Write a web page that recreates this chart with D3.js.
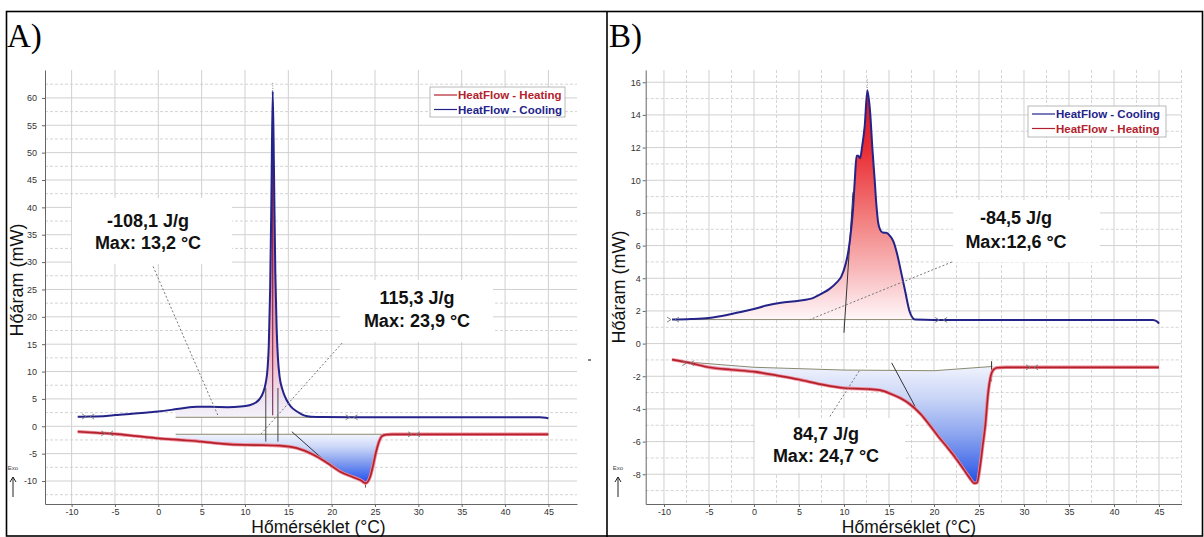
<!DOCTYPE html>
<html>
<head>
<meta charset="utf-8">
<script src="https://cdn.jsdelivr.net/npm/d3@7"></script>
<style>
  body { margin: 0; background: #fff; }
  svg { display: block; }
</style>
</head>
<body>
<svg id="fig" width="1204" height="537"></svg>
<script>
// ---------- Panel A: DSC heat flow, sample A ----------
const aTempTicks = [-10, -5, 0, 5, 10, 15, 20, 25, 30, 35, 40, 45];
const aFlowTicks = [-10, -5, 0, 5, 10, 15, 20, 25, 30, 35, 40, 45, 50, 55, 60];

const aCoolingTemp = [-9.3, -8, -6, -5, -3, -1, 0, 1.5, 3, 4.5, 6, 8, 9.5, 10.5, 11.2, 11.7, 12.1, 12.4, 12.6, 12.75, 12.9, 13.05, 13.2, 13.35, 13.5, 13.65, 13.8, 14.0, 14.3, 14.8, 15.3, 16.0, 16.8, 17.6, 19, 25, 35, 44, 44.7, 45];
const aCoolingFlow = [1.75, 1.78, 1.9, 2.05, 2.3, 2.55, 2.7, 3.0, 3.35, 3.55, 3.55, 3.5, 3.6, 3.85, 4.3, 5.0, 6.2, 8.0, 10.5, 15, 25, 42, 61.2, 46, 28, 18, 12.5, 9.0, 6.8, 4.8, 3.6, 2.7, 2.0, 1.75, 1.68, 1.65, 1.64, 1.64, 1.58, 1.45];

const aHeatingTemp = [-9.3, -7, -5, -2.5, 0, 2.5, 5, 7.5, 10, 12, 14, 16, 17.9, 19.4, 21, 22.5, 23.4, 23.9, 24.4, 24.8, 25.1, 25.4, 25.8, 26.3, 27, 35, 45];
const aHeatingFlow = [-0.98, -1.2, -1.4, -1.8, -2.2, -2.5, -2.8, -3.2, -3.4, -3.45, -3.55, -4.0, -5.2, -6.6, -8.3, -9.3, -9.9, -10.4, -9.4, -7.0, -4.8, -3.1, -1.8, -1.52, -1.46, -1.46, -1.46];

const aCoolBaseTemp = [2, 17.8];
const aCoolBaseFlow = [1.64, 1.64];
const aHeatBaseTemp = [2, 26.4];
const aHeatBaseFlow = [-1.46, -1.46];

const aLegend = ["HeatFlow - Heating", "HeatFlow - Cooling"];
const aCoolLabel = ["-108,1 J/g", "Max: 13,2 °C"];
const aHeatLabel = ["115,3 J/g", "Max: 23,9 °C"];

// ---------- Panel B: DSC heat flow, sample B ----------
const bTempTicks = [-10, -5, 0, 5, 10, 15, 20, 25, 30, 35, 40, 45];
const bFlowTicks = [-8, -6, -4, -2, 0, 2, 4, 6, 8, 10, 12, 14, 16];

const bCoolingTemp = [-9.1, -7, -5, -3, -1, 0, 1.5, 3, 5, 6.6, 7.5, 8.4, 9.2, 9.7, 10.2, 10.5, 10.8, 11.0, 11.2, 11.4, 11.6, 11.8, 12.0, 12.3, 12.6, 12.9, 13.15, 13.4, 13.6, 13.8, 14.0, 14.3, 14.7, 15.1, 15.5, 15.9, 16.3, 16.8, 17.3, 17.6, 17.9, 20, 30, 40, 44.3, 44.8, 45];
const bCoolingFlow = [1.47, 1.5, 1.57, 1.75, 2.0, 2.12, 2.35, 2.5, 2.62, 2.8, 3.05, 3.35, 3.75, 4.1, 4.9, 5.7, 7.0, 8.2, 10.0, 11.5, 11.5, 11.35, 12.0, 13.3, 15.5, 14.2, 12.0, 10.1, 8.5, 7.4, 7.0, 6.8, 6.78, 6.6, 6.25, 5.5, 4.5, 3.2, 1.95, 1.6, 1.47, 1.45, 1.45, 1.45, 1.44, 1.35, 1.22];

const bHeatingTemp = [-9.1, -7, -5, -2.5, 0, 2.5, 5, 7.5, 10, 12.5, 14, 15.3, 16.3, 17.3, 18.5, 19.6, 20.5, 21.4, 22.4, 23.3, 24.0, 24.5, 24.8, 25.1, 25.4, 25.7, 26.0, 26.3, 26.6, 27.0, 28, 35, 45];
const bHeatingFlow = [-0.98, -1.2, -1.45, -1.6, -1.72, -1.95, -2.2, -2.5, -2.72, -2.78, -2.85, -3.1, -3.35, -3.7, -4.3, -5.05, -5.7, -6.3, -7.0, -7.7, -8.25, -8.55, -8.5, -7.6, -6.3, -5.0, -3.1, -2.0, -1.6, -1.48, -1.45, -1.45, -1.45];

const bCoolBaseTemp = [-7, 17.9];
const bCoolBaseFlow = [1.47, 1.47];
const bHeatBaseTemp = [-8, 0, 10, 20, 26.5];
const bHeatBaseFlow = [-1.1, -1.45, -1.62, -1.66, -1.4];

const bLegend = ["HeatFlow - Cooling", "HeatFlow - Heating"];
const bCoolLabel = ["-84,5 J/g", "Max:12,6 °C"];
const bHeatLabel = ["84,7 J/g", "Max: 24,7 °C"];

const axisTitleY = "Hőáram (mW)";
const axisTitleX = "Hőmérséklet (°C)";

// ---------- drawing ----------
const SANS = "'Liberation Sans', Arial, sans-serif";
const SERIF = "'Liberation Serif', 'Times New Roman', serif";
const COOL = "#23238a";
const HEAT = "#b3222c";
const svg = d3.select("#fig");
const defs = svg.append("defs");

const zip = (ts, fs) => ts.map((t, i) => ({ t, f: fs[i] }));

function addGradient(id, y1, y2, stops) {
  const g = defs.append("linearGradient").attr("id", id)
    .attr("gradientUnits", "userSpaceOnUse")
    .attr("x1", 0).attr("x2", 0).attr("y1", y1).attr("y2", y2);
  stops.forEach(([o, c]) => g.append("stop").attr("offset", o).attr("stop-color", c));
}

function drawPanel(p) {
  const g = svg.append("g");
  const x = d3.scaleLinear().domain(p.xDomain).range(p.xRange);
  const y = d3.scaleLinear().domain(p.yDomain).range([504, 70]);
  const [x0, x1] = p.xRange;

  // minor grid (dashed)
  g.append("g").selectAll("line").data(p.yMinor).join("line")
    .attr("x1", x0).attr("x2", x1).attr("y1", d => y(d)).attr("y2", d => y(d))
    .attr("stroke", "#d4d4d4").attr("stroke-dasharray", "3,2").attr("stroke-width", 1);
  g.append("g").selectAll("line").data(p.xMinor).join("line")
    .attr("y1", 70).attr("y2", 504).attr("x1", d => x(d)).attr("x2", d => x(d))
    .attr("stroke", "#d4d4d4").attr("stroke-dasharray", "3,2").attr("stroke-width", 1);
  // major grid
  g.append("g").selectAll("line").data(p.yTicks).join("line")
    .attr("x1", x0).attr("x2", x1).attr("y1", d => y(d)).attr("y2", d => y(d))
    .attr("stroke", "#d0d0d0").attr("stroke-width", 1);
  g.append("g").selectAll("line").data(p.xTicks).join("line")
    .attr("y1", 70).attr("y2", 504).attr("x1", d => x(d)).attr("x2", d => x(d))
    .attr("stroke", "#d0d0d0").attr("stroke-width", 1);

  // white label boxes cover the grid
  p.boxes.forEach(b => g.append("rect").attr("x", b.x).attr("y", b.y)
    .attr("width", b.w).attr("height", b.h).attr("fill", "#fff"));

  // integrated peak areas
  const areaFor = (curve, bt, bf, gradId) => {
    const base = d3.scaleLinear().domain(bt).range(bf);
    const lo = bt[0], hi = bt[bt.length - 1];
    const pts = curve.filter(d => d.t > lo && d.t < hi);
    const interp = t => {
      const i = curve.findIndex(d => d.t >= t);
      const a = curve[i - 1], c = curve[i];
      return { t, f: a.f + (c.f - a.f) * (t - a.t) / (c.t - a.t) };
    };
    const full = [interp(lo), ...pts, interp(hi)];
    g.append("path").datum(full)
      .attr("d", d3.area().x(d => x(d.t)).y0(d => y(base(d.t))).y1(d => y(d.f)).curve(d3.curveMonotoneX))
      .attr("fill", `url(#${gradId})`);
    g.append("path").datum(bt.map((t, i) => ({ t, f: bf[i] })))
      .attr("d", d3.line().x(d => x(d.t)).y(d => y(d.f)))
      .attr("fill", "none").attr("stroke", "#8a8a70").attr("stroke-width", 1);
  };
  const cool = zip(p.coolT, p.coolF);
  const heat = zip(p.heatT, p.heatF);
  const coolTop = d3.max(p.coolF), heatMin = d3.min(p.heatF);
  addGradient(p.id + "cool", y(coolTop), y(p.coolBF[0]), p.coolStops);
  addGradient(p.id + "heat", y(d3.max(p.heatBF)), y(heatMin), p.heatStops);
  areaFor(cool, p.coolBT, p.coolBF, p.id + "cool");
  areaFor(heat, p.heatBT, p.heatBF, p.id + "heat");

  // construction lines (onsets, tangents, peak marks)
  p.marks.forEach(m => g.append("line")
    .attr("x1", x(m[0])).attr("y1", y(m[1])).attr("x2", x(m[2])).attr("y2", y(m[3]))
    .attr("stroke", m[4] || "#333").attr("stroke-width", 1)
    .attr("stroke-dasharray", m[5] || null));

  // curves
  const line = d3.line().x(d => x(d.t)).y(d => y(d.f)).curve(d3.curveMonotoneX);
  g.append("path").datum(heat).attr("d", line).attr("fill", "none")
    .attr("stroke", "#ef8a98").attr("stroke-width", 3.4);
  g.append("path").datum(heat).attr("d", line).attr("fill", "none")
    .attr("stroke", HEAT).attr("stroke-width", 1.7);
  g.append("path").datum(cool).attr("d", line).attr("fill", "none")
    .attr("stroke", COOL).attr("stroke-width", 2);

  // integration limit markers  >|<
  p.limits.forEach(([t, f]) => {
    const cx = x(t), cy = y(f);
    g.append("path")
      .attr("d", `M${cx - 6},${cy - 2.5}L${cx - 2},${cy}L${cx - 6},${cy + 2.5}M${cx + 6},${cy - 2.5}L${cx + 2},${cy}L${cx + 6},${cy + 2.5}`)
      .attr("fill", "none").attr("stroke", "#777").attr("stroke-width", 0.9);
  });

  // dotted leaders from the labels
  p.leaders.forEach(l => g.append("line")
    .attr("x1", x(l[0])).attr("y1", y(l[1])).attr("x2", x(l[2])).attr("y2", y(l[3]))
    .attr("stroke", "#777").attr("stroke-width", 1).attr("stroke-dasharray", "2,2"));

  // axes
  const yAxis = g.append("g").attr("transform", `translate(${x0},0)`)
    .call(d3.axisLeft(y).tickValues(p.yTicks).tickFormat(d => String(d))
      .tickSize(3).tickSizeOuter(0).tickPadding(p.yPad));
  const xAxis = g.append("g").attr("transform", "translate(0,504)")
    .call(d3.axisBottom(x).tickValues(p.xTicks).tickFormat(d => String(d))
      .tickSize(3).tickSizeOuter(0).tickPadding(1.5));
  [yAxis, xAxis].forEach(a => {
    a.select(".domain").attr("stroke", "#666");
    a.selectAll(".tick line").attr("stroke", "#666");
    a.selectAll(".tick text").attr("fill", "#333").style("font-family", SANS)
      .style("font-size", "9px");
  });

  // annotation texts
  p.labels.forEach(l => {
    l.lines.forEach((s, i) => g.append("text").attr("x", l.cx).attr("y", l.ys[i])
      .attr("text-anchor", "middle").style("font-family", SANS).style("font-size", "18px")
      .style("font-weight", "bold").attr("fill", "#111").text(s));
  });

  // legend
  const lg = p.legend;
  g.append("rect").attr("x", lg.x).attr("y", lg.y).attr("width", lg.w).attr("height", lg.h)
    .attr("fill", "#fff").attr("stroke", "#a8a8a8").attr("stroke-width", 0.8);
  lg.items.forEach((it, i) => {
    const yy = lg.y + 8 + i * 14.5;
    g.append("line").attr("x1", lg.x + 4).attr("x2", lg.x + 27).attr("y1", yy).attr("y2", yy)
      .attr("stroke", it.color).attr("stroke-width", 1.2);
    g.append("text").attr("x", lg.x + 28).attr("y", yy + 4.2)
      .style("font-family", SANS).style("font-size", "11.5px").style("font-weight", "bold")
      .attr("fill", it.color).text(it.name);
  });

  // axis titles
  g.append("text").attr("transform", `translate(${p.yTitle[0]},${p.yTitle[1]}) rotate(-90)`)
    .attr("text-anchor", "middle").style("font-family", SANS).style("font-size", "18px")
    .attr("fill", "#111").text(axisTitleY);
  g.append("text").attr("x", p.xTitle[0]).attr("y", p.xTitle[1])
    .attr("text-anchor", "middle").style("font-family", SANS).style("font-size", "17.5px")
    .attr("fill", "#111").text(axisTitleX);

  // exo direction marker
  const ex = p.exoX;
  g.append("text").attr("x", ex).attr("y", 470).attr("text-anchor", "middle")
    .style("font-family", SANS).style("font-size", "6px").attr("fill", "#444").text("Exo");
  g.append("path").attr("d", `M${ex},497V477M${ex - 3},482L${ex},477L${ex + 3},482`)
    .attr("fill", "none").attr("stroke", "#222").attr("stroke-width", 1);

  // panel letter
  g.append("text").attr("x", p.letterX).attr("y", 47)
    .style("font-family", SERIF).style("font-size", "33px").attr("fill", "#000").text(p.letter);
}

const range = (a, b, s) => d3.range(a, b + 1e-9, s);

drawPanel({
  id: "A", letter: "A)", letterX: 7,
  xDomain: [-13.07, 48.3], xRange: [45, 577],
  yDomain: [-14.2, 65.1],
  xTicks: aTempTicks, yTicks: aFlowTicks,
  xMinor: [], yMinor: range(-12.5, 62.5, 5),
  yPad: 5,
  coolT: aCoolingTemp, coolF: aCoolingFlow, heatT: aHeatingTemp, heatF: aHeatingFlow,
  coolBT: aCoolBaseTemp, coolBF: aCoolBaseFlow, heatBT: aHeatBaseTemp, heatBF: aHeatBaseFlow,
  coolStops: [[0, "#c22a60"], [0.45, "#e66f8b"], [0.8, "#f4b1c0"], [0.95, "#efe4f2"], [1, "#f4f2fa"]],
  heatStops: [[0, "#f2f4fe"], [0.25, "#cdd8f8"], [0.6, "#7d99ef"], [1, "#1d4cf0"]],
  marks: [
    [12.4, 7, 12.4, -2.8, "#444"], [13.8, 7, 13.8, -2.8, "#444"],
    [13.2, 2, 13.2, 58, "#6a1a40"], [13.2, 61.2, 13.2, 62.8, "#888", "1,1.5"],
    [15.4, -0.98, 19.4, -6.6, "#333"], [23.9, -10.4, 23.9, -11.2, "#555"]
  ],
  limits: [[-8.1, 1.78], [22.3, 1.65], [-5.9, -1.3], [29.5, -1.46]],
  leaders: [[-0.6, 29.2, 6.9, 1.9], [21.2, 15.2, 11.85, -1.4]],
  boxes: [{ x: 72, y: 198, w: 160, h: 66 }, { x: 340, y: 280, w: 153, h: 62 }],
  labels: [
    { lines: aCoolLabel, cx: 148, ys: [226.5, 248.5] },
    { lines: aHeatLabel, cx: 417, ys: [303.5, 326.5] }
  ],
  legend: { x: 430, y: 87, w: 135, h: 30, items: [
    { name: aLegend[0], color: HEAT }, { name: aLegend[1], color: COOL }] },
  yTitle: [23, 280], xTitle: [318.5, 533], exoX: 13
});

drawPanel({
  id: "B", letter: "B)", letterX: 609,
  xDomain: [-12.03, 47.5], xRange: [645.7, 1181.5],
  yDomain: [-9.82, 16.75],
  xTicks: bTempTicks, yTicks: bFlowTicks,
  xMinor: range(-7.5, 47.5, 5), yMinor: range(-9, 15, 2),
  yPad: 2,
  coolT: bCoolingTemp, coolF: bCoolingFlow, heatT: bHeatingTemp, heatF: bHeatingFlow,
  coolBT: bCoolBaseTemp, coolBF: bCoolBaseFlow, heatBT: bHeatBaseTemp, heatBF: bHeatBaseFlow,
  coolStops: [[0, "#c91c2a"], [0.25, "#e92c33"], [0.55, "#f27c7c"], [0.78, "#f8b7b9"], [0.92, "#fce0e3"], [1, "#fff6f8"]],
  heatStops: [[0, "#f6f7fe"], [0.3, "#c9d5f7"], [0.6, "#8ca5ef"], [0.85, "#4d72ea"], [1, "#1f4fe6"]],
  marks: [
    [11.0, 9.26, 10.0, 0.67, "#333"], [12.6, 15.5, 12.6, 16.2, "#999", "1,1.5"],
    [15.3, -1.18, 17.9, -3.85, "#333"], [26.4, -1.08, 26.4, -2.31, "#333"]
  ],
  limits: [[-9.0, 1.47], [20.8, 1.45], [-7.3, -1.2], [30.9, -1.45]],
  leaders: [[21.97, 4.99, 6.2, 1.47], [8.44, -4.46, 11.78, -1.6]],
  boxes: [{ x: 953, y: 200, w: 147, h: 62 }, { x: 755, y: 418, w: 150, h: 55 }],
  labels: [
    { lines: bCoolLabel, cx: 1016, ys: [223.5, 248] },
    { lines: bHeatLabel, cx: 826, ys: [440, 462] }
  ],
  legend: { x: 1028, y: 106, w: 138, h: 31, items: [
    { name: bLegend[0], color: COOL }, { name: bLegend[1], color: HEAT }] },
  yTitle: [625, 287], xTitle: [909, 533], exoX: 618
});

// stray tick mark right of panel A
svg.append("line").attr("x1", 588).attr("x2", 591).attr("y1", 360).attr("y2", 360)
  .attr("stroke", "#333").attr("stroke-width", 1.2);

// table frame around both panels
svg.append("rect").attr("x", 6.5).attr("y", 11.5).attr("width", 1196).attr("height", 524.5)
  .attr("fill", "none").attr("stroke", "#000").attr("stroke-width", 1.6);
svg.append("line").attr("x1", 607).attr("x2", 607).attr("y1", 11).attr("y2", 537)
  .attr("stroke", "#000").attr("stroke-width", 1.6);
</script>
</body>
</html>
